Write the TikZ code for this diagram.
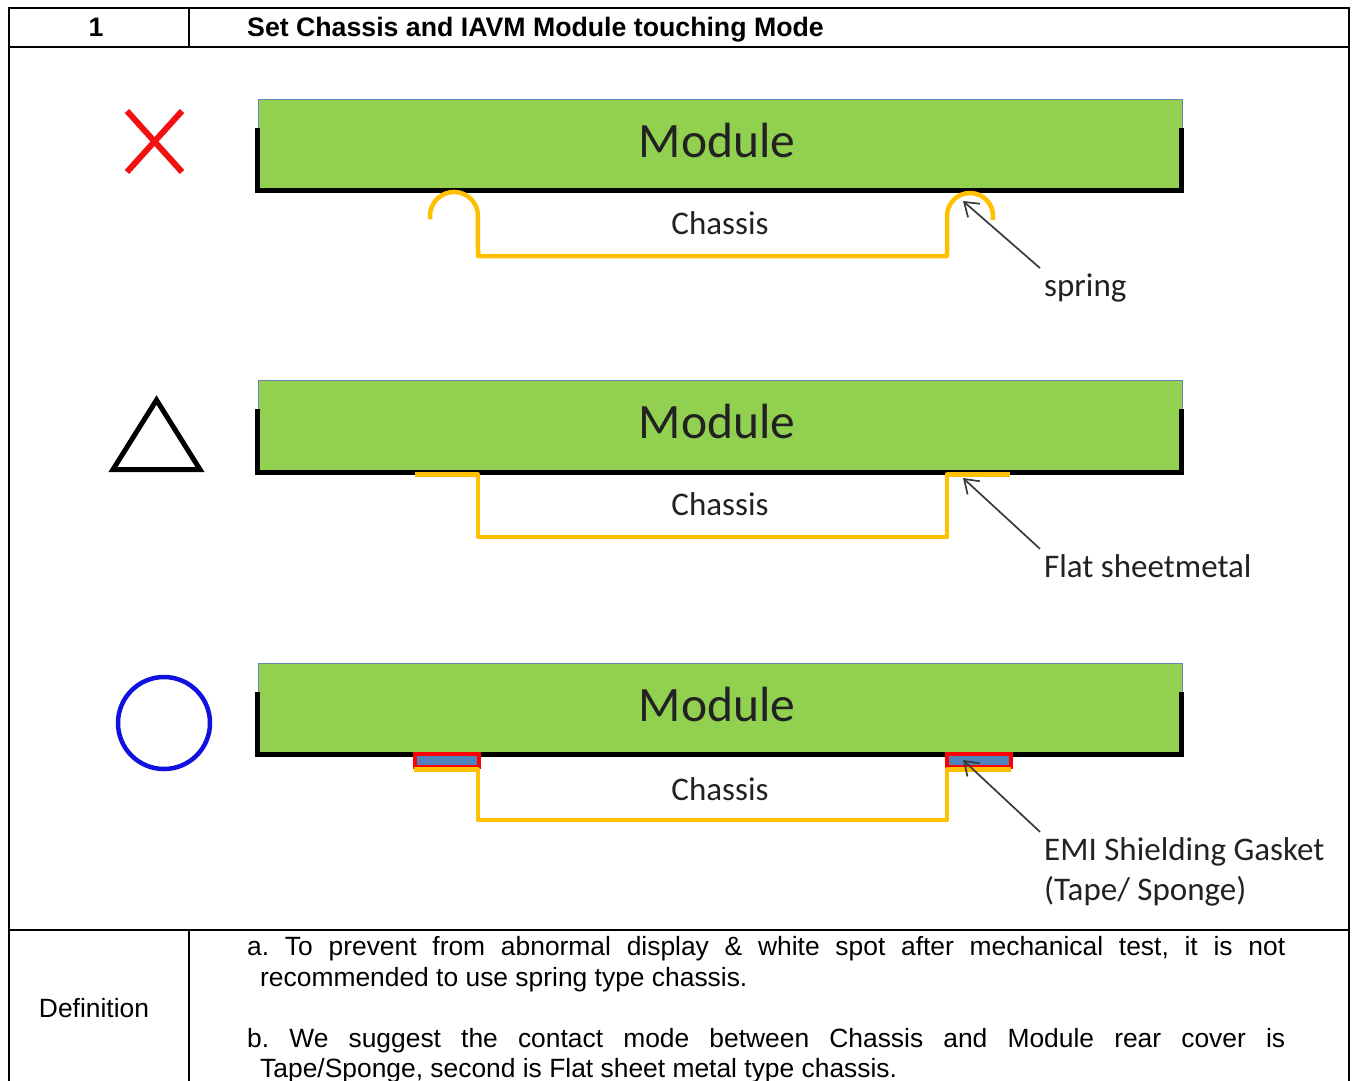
\documentclass[tikz,border=0pt]{standalone}
\usepackage{fontspec}
\setmainfont{Liberation Sans}
\newfontfamily\calfont{Carlito}
\usetikzlibrary{arrows.meta}
\definecolor{modgreen}{HTML}{92D050}
\definecolor{chyellow}{HTML}{FFC000}
\definecolor{gasblue}{HTML}{4F81BD}
\definecolor{rimblue}{HTML}{6A84B0}
\definecolor{txtgray}{HTML}{222222}
\definecolor{okblue}{HTML}{1010E0}
\definecolor{badred}{HTML}{F21010}
\definecolor{arrowgray}{HTML}{3A3A3A}
\frenchspacing
\begin{document}
\begin{tikzpicture}[x=1pt,y=-1pt,
  grid/.style={line width=2.6pt, black},
  modbox/.style={fill=modgreen, draw=rimblue, line width=0.8pt},
  modbase/.style={line width=5pt, black, line join=miter},
  chassisline/.style={draw=chyellow, line width=4.5pt, line join=round},
  bigtxt/.style={font=\calfont\fontsize{49.5}{55}\selectfont, text=txtgray, inner sep=0pt},
  midtxt/.style={font=\calfont\fontsize{33}{40}\selectfont, text=txtgray, inner sep=0pt},
  tabtxt/.style={font=\fontsize{26.4}{30}\selectfont, inner sep=0pt},
  tabbold/.style={font=\fontsize{26.7}{30}\selectfont\bfseries, inner sep=0pt},
  pointer/.style={draw=arrowgray, line width=1.7pt, -{Straight Barb[length=13pt,width=18pt]}},
  gasket/.style={draw=red, fill=gasblue, line width=4pt},
]
\useasboundingbox (0,0) rectangle (1355,1080);
\clip (0,0) rectangle (1355,1080);
\fill[white] (0,0) rectangle (1355,1080);

% table
\draw[grid] (9,1100) -- (9,8) -- (1349,8) -- (1349,1100);
\draw[grid] (9,47) -- (1349,47);
\draw[grid] (9,930) -- (1349,930);
\draw[grid] (189,8) -- (189,47);
\draw[grid] (189,930) -- (189,1100);

\node[tabbold, anchor=base] (num) at (96,36.5) {1};
\node[tabbold, anchor=base west] (title) at (247,36.5) {Set Chassis and IAVM Module touching Mode};
\node[tabtxt, anchor=base] (def) at (94,1017) {Definition};
\node[tabtxt, anchor=base west] (a1) at (247,955) {\makebox[1038pt][s]{a. To prevent from abnormal display \& white spot after mechanical test, it is not}};
\node[tabtxt, anchor=base west] (a2) at (260,986) {recommended to use spring type chassis.};
\node[tabtxt, anchor=base west] (b1) at (247,1047) {\makebox[1038pt][s]{b. We suggest the contact mode between Chassis and Module rear cover is}};
\node[tabtxt, anchor=base west] (b2) at (260,1077) {Tape/Sponge, second is Flat sheet metal type chassis.};

% symbols
\draw[badred, line width=6pt] (127,111) -- (182,172);
\draw[badred, line width=6pt] (182,111) -- (127,172);
\draw[black, line width=5pt, line join=miter] (113,469.5) -- (200,469.5) -- (156.5,400) -- cycle;
\draw[okblue, line width=4.5pt] (164,723) circle[radius=46];

% panel 1: spring
\begin{scope}
  \draw[modbox] (258,99) rectangle (1182,190);
  \draw[modbase] (257.5,128) -- (257.5,190.5) -- (1181,190.5) -- (1181,128);
  \node[bigtxt] (mod1) at (717,140) {Module};
  \node[midtxt] (ch1) at (720,223) {Chassis};
  \draw[chassisline] (430.2,219.3) arc[start angle=172,end angle=360,radius=24] -- (478,256) -- (947,256) -- (947,216) arc[start angle=180,end angle=370,radius=23];
  \node[midtxt, anchor=base west] (lb1) at (1044,296) {spring};
  \coordinate (tip1) at (963,201);
  \draw[pointer] ([shift={(-4,-5)}]lb1.north west) -- (tip1);
\end{scope}

% panel 2: flat sheet metal
\begin{scope}[shift={(0,281)}]
  \draw[modbox] (258,99) rectangle (1182,190);
  \draw[modbase] (257.5,128) -- (257.5,191.5) -- (1181,191.5) -- (1181,128);
  \node[bigtxt] (mod2) at (717,140) {Module};
  \node[midtxt] (ch2) at (720,223) {Chassis};
  \draw[chassisline] (415,193.5) -- (478,193.5) -- (478,256) -- (947,256) -- (947,193.5) -- (1010,193.5);
  \node[midtxt, anchor=base west] (lb2) at (1044,296) {Flat sheetmetal};
  \coordinate (tip2) at (963,197);
  \draw[pointer] ([shift={(-4,-5)}]lb2.north west) -- (tip2);
\end{scope}

% panel 3: gasket
\begin{scope}[shift={(0,564)}]
  \draw[modbox] (258,99) rectangle (1182,190);
  \draw[modbase] (257.5,128) -- (257.5,190.5) -- (1181,190.5) -- (1181,128);
  \node[bigtxt] (mod3) at (717,140) {Module};
  \node[midtxt] (ch3) at (720,225) {Chassis};
  \draw[gasket] (415,190) rectangle (478.5,202.5);
  \draw[gasket] (947,190) rectangle (1010.5,202.5);
  \draw[chassisline] (414,205.5) -- (478,205.5) -- (478,256) -- (947,256) -- (947,205.5) -- (1011,205.5);
  \node[midtxt, anchor=base west] (lb3) at (1044,296) {EMI Shielding Gasket};
  \node[midtxt, anchor=base west] (lb3b) at (1044,336) {(Tape/ Sponge)};
  \coordinate (tip3) at (963,196);
  \draw[pointer] ([shift={(-4,-5)}]lb3.north west) -- (tip3);
\end{scope}
\end{tikzpicture}
\end{document}
